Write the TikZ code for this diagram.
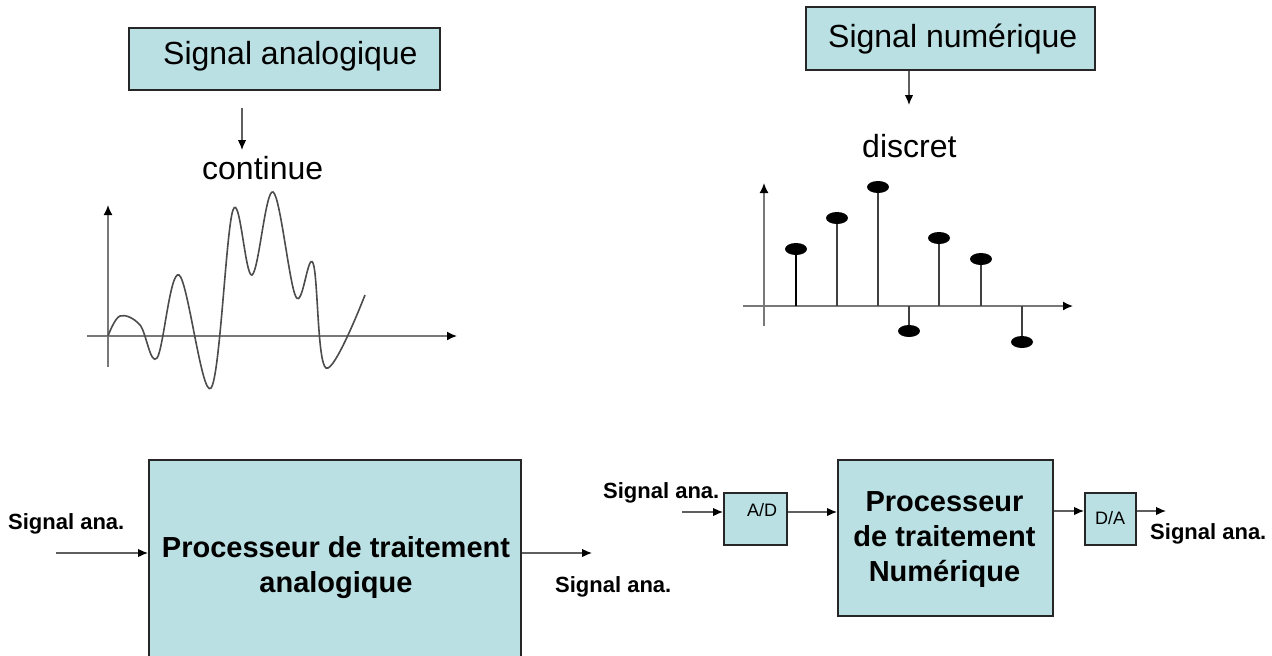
\documentclass[tikz,border=0pt]{standalone}
\usepackage{fontspec}
\setmainfont{Liberation Sans}
\usetikzlibrary{arrows.meta}
\definecolor{boxfill}{RGB}{187,224,227}
\definecolor{linegray}{RGB}{95,95,95}
\definecolor{axisgray}{RGB}{120,120,120}
\begin{document}
\begin{tikzpicture}[x=1pt,y=-1pt,
  box/.style={draw=black!85, line width=1.5pt, fill=boxfill, inner sep=0pt, anchor=north west},
  conn/.style={draw=linegray, line width=1.2pt, -{Latex[length=10pt,width=8.5pt,color=black]}},
  axis/.style={draw=axisgray, line width=1.6pt, -{Latex[length=10pt,width=9pt,color=black]}},
  toptxt/.style={font=\fontsize{32}{38}\selectfont, inner sep=0pt, anchor=base west},
  lbl/.style={font=\bfseries\fontsize{22}{26}\selectfont, inner sep=0pt, anchor=base west},
  proctxt/.style={font=\bfseries\fontsize{29}{35}\selectfont, align=center, inner sep=0pt},
  smalltxt/.style={font=\fontsize{18}{20}\selectfont, inner sep=0pt, anchor=base west},
  stem/.style={draw=black!75, line width=1.6pt},
  curve/.style={draw=black!70, line width=1.6pt}
]
\useasboundingbox (0,0) rectangle (1272,656);
\fill[white] (0,0) rectangle (1272,656);

% ---- top boxes and labels
\node[box, minimum width=311pt, minimum height=62pt] (sa) at (128,27) {};
\node[toptxt] (satxt) at (163,64) {Signal analogique};
\node[box, minimum width=289pt, minimum height=63pt] (sn) at (805,6) {};
\node[toptxt] (sntxt) at (828,47) {Signal num\'erique};
\node[toptxt] (cont) at (202,179) {continue};
\node[toptxt] (disc) at (862,157) {discret};

\coordinate (a1s) at (242,108);
\coordinate (a1e) at (242,150);
\draw[conn] (a1s) -- (a1e);
\coordinate (a2e) at (909,105);
\draw[conn] (sn.south -| a2e) -- (a2e);

% ---- analog plot
\coordinate (ax0) at (87,336);
\coordinate (ax1) at (457,336);
\coordinate (ay0) at (108,367);
\coordinate (ay1) at (108,205);
\draw[axis] (ax0) -- (ax1);
\draw[axis] (ay0) -- (ay1);
\draw[curve] plot[smooth, tension=0.6] coordinates {
 (108,336) (120,316) (140,325) (157,358) (179,275) (211,388) (233,210)
 (252,275) (273,192) (296,297) (313,263) (326,368) (365,295)};

% ---- digital plot
\coordinate (dx0) at (743,306);
\coordinate (dx1) at (1073,306);
\coordinate (dy0) at (764,326);
\coordinate (dy1) at (764,183);
\draw[axis] (dx0) -- (dx1);
\draw[axis] (dy0) -- (dy1);
\draw[stem, draw=black, line width=2.2pt] (796,306) -- (796,249);
\foreach \x/\y in {837/218, 878/187, 909/331, 939/238, 981/259, 1022/342}
  \draw[stem] (\x,306) -- (\x,\y);
\foreach \x/\y in {796/249, 837/218, 878/187, 909/331, 939/238, 981/259, 1022/342}
  \fill[black] (\x,\y) ellipse [x radius=11, y radius=6];

% ---- bottom left: analog processor
\node[box, minimum width=372pt, minimum height=214pt] (p1) at (148,459) {};
\node[proctxt] (p1txt) at (336,568) {Processeur de traitement\\analogique};
\node[lbl] (in1) at (8,529) {Signal ana.};
\node[lbl] (out1) at (555,592) {Signal ana.};
\coordinate (i1s) at (56,553);
\coordinate (o1e) at (592,553);
\draw[conn] (i1s) -- (p1.west |- i1s);
\draw[conn] (p1.east |- o1e) -- (o1e);

% ---- bottom right: digital chain
\node[box, minimum width=63pt, minimum height=52pt] (ad) at (723,492) {};
\node[smalltxt] (adtxt) at (747,516) {A/D};
\node[box, minimum width=215pt, minimum height=156pt] (p2) at (837,459) {};
\node[proctxt] (p2txt) at (944.5,540) {Processeur\\de traitement\\Num\'erique};
\node[box, minimum width=51pt, minimum height=52pt] (da) at (1084,492) {};
\node[smalltxt] (datxt) at (1095,524) {D/A};
\node[lbl] (in2) at (603,498) {Signal ana.};
\node[lbl] (out2) at (1150,539) {Signal ana.};
\coordinate (i2s) at (682,512);
\coordinate (o2e) at (1166,511);
\draw[conn] (i2s) -- (ad.west |- i2s);
\draw[conn] (ad.east |- i2s) -- (p2.west |- i2s);
\draw[conn] (p2.east |- o2e) -- (da.west |- o2e);
\draw[conn] (da.east |- o2e) -- (o2e);
\end{tikzpicture}
\end{document}
